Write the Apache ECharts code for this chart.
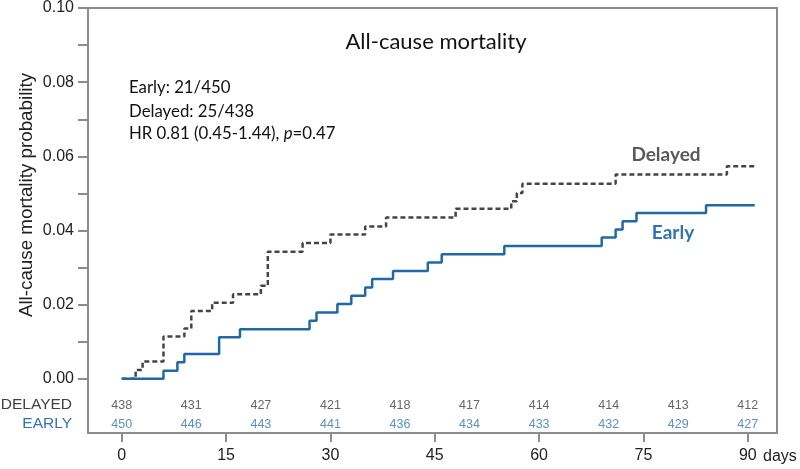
<!DOCTYPE html>
<html>
<head>
<meta charset="utf-8">
<script src="https://cdn.jsdelivr.net/npm/echarts@6/dist/echarts.min.js"></script>
<style>
html,body{margin:0;padding:0;background:#fff;}
#chart{width:800px;height:469px;}
</style>
</head>
<body>
<div id="chart"></div>
<script>
// ---- data ----
const earlyCurve = [[0,0],[6,0.0022],[8,0.0045],[9,0.0067],[14,0.0112],[17,0.0134],[27,0.0157],[28,0.0179],[31,0.0202],[33,0.0224],[35,0.0246],[36,0.0269],[39,0.0291],[44,0.0314],[46,0.0336],[55,0.0358],[69,0.0381],[71,0.0403],[72,0.0425],[74,0.0447],[84,0.0468],[91,0.0468]];
const delayedCurve = [[0,0],[2,0.0024],[3,0.0047],[6,0.0114],[9,0.0136],[10,0.0183],[13,0.0205],[16,0.0228],[20,0.0251],[21,0.0343],[26,0.0366],[30,0.0389],[35,0.0411],[38,0.0435],[48,0.0459],[56,0.0479],[56.8,0.0501],[57.6,0.0526],[71,0.0551],[87,0.0573],[91,0.0573]];
const atRiskDays = [0,10,20,30,40,50,60,70,80,90];
const delayedAtRisk = [438,431,427,421,418,417,414,414,413,412];
const earlyAtRisk = [450,446,443,441,436,434,433,432,429,427];
const xTicks = [0,15,30,45,60,75,90];
const yMajorTicks = [0,0.02,0.04,0.06,0.08,0.10];
const yAllTicks = [0,0.01,0.02,0.03,0.04,0.05,0.06,0.07,0.08,0.09,0.10];
const titleText = 'All-cause mortality';
const statsLines = ['Early: 21/450','Delayed: 25/438'];
const hrText = 'HR 0.81 (0.45-1.44), ';
const pText = '0.47';

// ---- style ----
const BLUE_LINE = '#1f6aa6';
const BLUE_TEXT = '#2e74b5';
const GREY_DASH = '#454545';
const GREY_TEXT = '#404040';
const AXIS = '#8c8c8c';
const ROW_Y_DELAYED = -0.0073;
const ROW_Y_EARLY = -0.0122;

const chart = echarts.init(document.getElementById('chart'), null, {renderer:'canvas'});

function atRiskSeries(name, values, yPos, color){
  return {
    name, type:'scatter', symbolSize:1, silent:true, z:5,
    itemStyle:{color:'rgba(0,0,0,0)'},
    data: atRiskDays.map((d,i)=>[d, yPos, values[i]]),
    label:{show:true, position:'inside', formatter:p=>String(p.data[2]),
      color, fontFamily:'Liberation Sans', fontSize:12.5}
  };
}

const option = {
  animation:false,
  backgroundColor:'#fff',
  grid:{left:88, right:23, top:7, bottom:36, show:true, borderColor:AXIS, borderWidth:2, backgroundColor:'transparent'},
  xAxis:{
    type:'value', min:-4.85, max:94.2,
    axisLine:{show:false, onZero:false},
    splitLine:{show:false},
    axisTick:{show:true, inside:false, customValues:xTicks, length:9, lineStyle:{color:AXIS, width:2}},
    axisLabel:{customValues:xTicks, margin:15, fontFamily:'Liberation Sans', fontSize:16, color:'#222',
      formatter:v=>String(v)}
  },
  yAxis:{
    type:'value', min:-0.0146, max:0.10,
    axisLine:{show:false, onZero:false},
    splitLine:{show:false},
    axisTick:{show:true, inside:false, customValues:yAllTicks, length:10, lineStyle:{color:AXIS, width:2}},
    axisLabel:{customValues:yMajorTicks, margin:14, fontFamily:'Liberation Sans', fontSize:16, color:'#222',
      formatter:v=>v.toFixed(2)}
  },
  series:[
    {name:'Delayed', type:'line', step:'end', data:delayedCurve, showSymbol:false, z:3,
      lineStyle:{color:GREY_DASH, width:2.5, type:[5,3]}},
    {name:'Early', type:'line', step:'end', data:earlyCurve, showSymbol:false, z:4,
      lineStyle:{color:BLUE_LINE, width:2.5}},
    atRiskSeries('delayedRisk', delayedAtRisk, ROW_Y_DELAYED, GREY_TEXT),
    atRiskSeries('earlyRisk', earlyAtRisk, ROW_Y_EARLY, BLUE_TEXT)
  ],
  graphic:[
    {type:'text', x:27, y:195, rotation:Math.PI/2, style:{text:'All-cause mortality probability', align:'center', verticalAlign:'middle', font:'18.8px "Liberation Sans"', fill:'#222'}},
    {type:'text', x:436, y:42, style:{text:titleText, align:'center', verticalAlign:'middle', font:'22px Lato', fill:'#111'}},
    {type:'text', x:129, y:88, style:{text:statsLines[0], align:'left', verticalAlign:'middle', font:'16.8px Lato', fill:'#111'}},
    {type:'text', x:129, y:112, style:{text:statsLines[1], align:'left', verticalAlign:'middle', font:'16.8px Lato', fill:'#111'}},
    {type:'text', x:129, y:134, style:{text:hrText + '{i|p}=' + pText, align:'left', verticalAlign:'middle', font:'16.8px Lato', fill:'#111',
      rich:{i:{fontStyle:'italic', fontFamily:'Lato', fontSize:16.8, fill:'#111'}}}},
    {type:'text', x:666, y:155, style:{text:'Delayed', align:'center', verticalAlign:'middle', font:'bold 19px Lato', fill:'#595959'}},
    {type:'text', x:673, y:233, style:{text:'Early', align:'center', verticalAlign:'middle', font:'bold 19px Lato', fill:BLUE_TEXT}},
    {type:'text', x:72, y:405, style:{text:'DELAYED', align:'right', verticalAlign:'middle', font:'15.5px "Liberation Sans"', fill:GREY_TEXT}},
    {type:'text', x:72, y:424, style:{text:'EARLY', align:'right', verticalAlign:'middle', font:'15.5px "Liberation Sans"', fill:BLUE_TEXT}},
    {type:'text', x:763, y:457, style:{text:'days', align:'left', verticalAlign:'middle', font:'16px "Liberation Sans"', fill:'#222'}}
  ]
};
chart.setOption(option);
</script>
</body>
</html>
